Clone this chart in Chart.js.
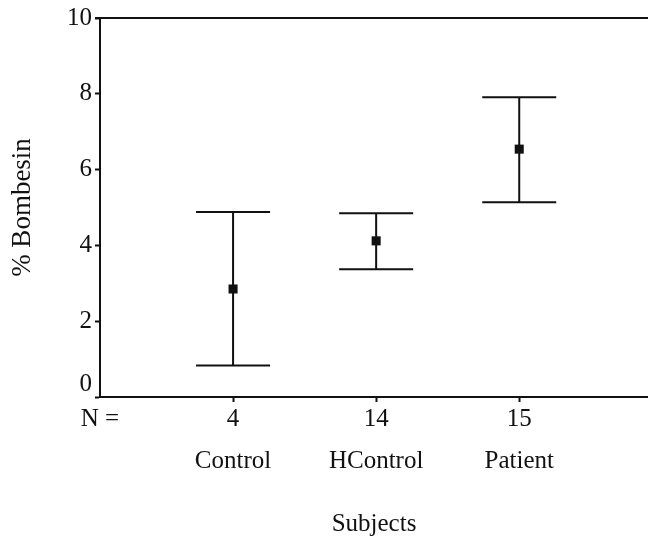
<!DOCTYPE html>
<html>
<head>
<meta charset="utf-8">
<script src="https://cdn.jsdelivr.net/npm/chart.js@4.4.1/dist/chart.umd.min.js"></script>
<style>
  html, body { margin: 0; padding: 0; background: #ffffff; }
  #wrap { width: 648px; height: 538px; }
</style>
</head>
<body>
<div id="wrap"><canvas id="c" width="648" height="538"></canvas></div>
<script>
// ---- data ----
const categories = ['Control', 'HControl', 'Patient'];
const nValues = ['4', '14', '15'];
const catPos = [1, 2, 3];
const means = [2.85, 4.12, 6.54];
const upper = [4.88, 4.85, 7.91];
const lower = [0.83, 3.37, 5.14];
const yTicks = [0, 2, 4, 6, 8, 10];
const nLabel = 'N =';
const xTitle = 'Subjects';
const yTitle = '% Bombesin';

const xMin = 0.07, xMax = 3.9;
const FONT = "'Liberation Serif', 'Times New Roman', serif";
const INK = '#111111';

const errorBars = {
  id: 'errorBars',
  beforeDatasetsDraw(chart) {
    const { ctx, scales: { x, y } } = chart;
    const cap = 37;
    ctx.save();
    ctx.strokeStyle = INK;
    ctx.lineWidth = 2;
    for (let i = 0; i < catPos.length; i++) {
      const px = x.getPixelForValue(catPos[i]);
      const yh = y.getPixelForValue(upper[i]);
      const yl = y.getPixelForValue(lower[i]);
      ctx.beginPath();
      ctx.moveTo(px, yh); ctx.lineTo(px, yl);
      ctx.moveTo(px - cap, yh); ctx.lineTo(px + cap, yh);
      ctx.moveTo(px - cap, yl); ctx.lineTo(px + cap, yl);
      ctx.stroke();
    }
    // top frame line
    const a = chart.chartArea;
    ctx.beginPath();
    ctx.moveTo(a.left - 5, a.top);
    ctx.lineTo(chart.width, a.top);
    ctx.stroke();
    ctx.restore();
  }
};

new Chart(document.getElementById('c'), {
  type: 'scatter',
  data: {
    datasets: [{
      data: catPos.map((p, i) => ({ x: p, y: means[i] })),
      pointStyle: 'rect',
      pointRadius: 6.4,
      pointHoverRadius: 6.4,
      backgroundColor: INK,
      borderColor: INK,
      borderWidth: 0,
      showLine: false
    }]
  },
  options: {
    responsive: false,
    animation: false,
    devicePixelRatio: 1,
    layout: { autoPadding: false, padding: { top: 18, right: 0, bottom: 0, left: 0 } },
    plugins: { legend: { display: false }, tooltip: { enabled: false } },
    scales: {
      x: {
        type: 'linear',
        min: xMin,
        max: xMax,
        afterFit(scale) { scale.height = 141; scale.paddingRight = 0; scale.paddingLeft = 0; },
        afterBuildTicks(scale) {
          scale.ticks = [xMin, ...catPos].map(v => ({ value: v }));
        },
        border: { display: true, color: INK, width: 2 },
        grid: {
          drawOnChartArea: false,
          drawTicks: true,
          tickLength: 5,
          tickWidth: 2,
          tickColor: (c) => (c.index === 0 ? 'rgba(0,0,0,0)' : INK),
          color: INK
        },
        ticks: {
          autoSkip: false,
          maxRotation: 0,
          minRotation: 0,
          padding: 7,
          color: INK,
          font: { family: FONT, size: 25, lineHeight: '21px' },
          callback: (v, i) => (i === 0 ? [nLabel, '', ''] : [nValues[i - 1], '', categories[i - 1]])
        },
        title: {
          display: true,
          text: xTitle,
          color: INK,
          font: { family: FONT, size: 25, lineHeight: 1.1 },
          padding: { top: 0, bottom: 0 }
        }
      },
      y: {
        min: 0,
        max: 10,
        afterFit(scale) { scale.width = 100; },
        afterBuildTicks(scale) {
          scale.ticks = yTicks.map(v => ({ value: v }));
        },
        border: { display: true, color: INK, width: 2 },
        grid: {
          drawOnChartArea: false,
          drawTicks: true,
          tickLength: 5,
          tickWidth: 2,
          color: INK
        },
        ticks: {
          padding: 3,
          color: INK,
          font: { family: FONT, size: 25, lineHeight: '26px' },
          callback: (v) => (v === 0 ? [String(v), ''] : String(v))
        },
        title: {
          display: true,
          text: yTitle,
          color: INK,
          font: { family: FONT, size: 27, lineHeight: 1.2 },
          padding: { top: 7, bottom: 0 }
        }
      }
    }
  },
  plugins: [errorBars]
});
</script>
</body>
</html>
